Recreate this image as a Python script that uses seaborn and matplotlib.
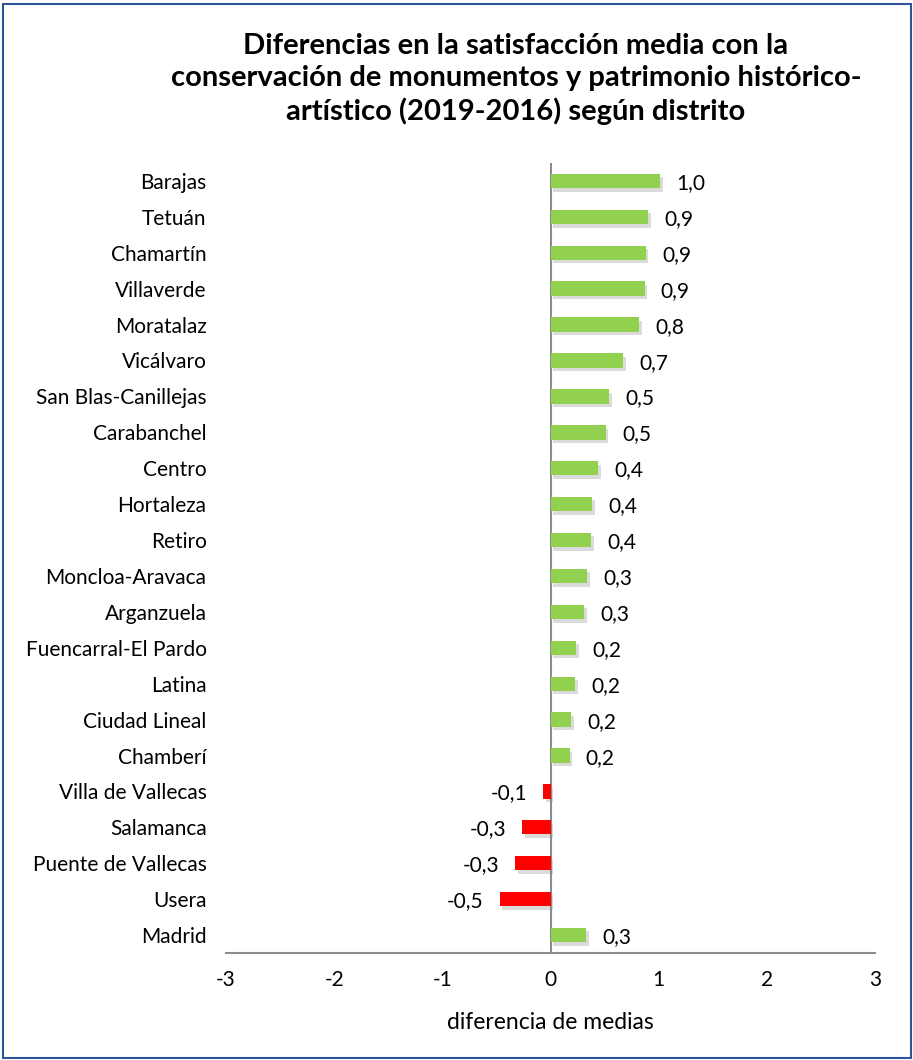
import matplotlib
matplotlib.use("Agg")
import matplotlib.pyplot as plt
import matplotlib.patheffects as pe
from matplotlib.patches import Rectangle
import seaborn as sns
import pandas as pd

districts = ["Barajas", "Tetuán", "Chamartín", "Villaverde", "Moratalaz", "Vicálvaro",
             "San Blas-Canillejas", "Carabanchel", "Centro", "Hortaleza", "Retiro",
             "Moncloa-Aravaca", "Arganzuela", "Fuencarral-El Pardo", "Latina",
             "Ciudad Lineal", "Chamberí", "Villa de Vallecas", "Salamanca",
             "Puente de Vallecas", "Usera", "Madrid"]
values = [1.01, 0.90, 0.88, 0.87, 0.82, 0.67, 0.54, 0.51, 0.44, 0.385, 0.376,
          0.34, 0.31, 0.24, 0.23, 0.19, 0.176, -0.065, -0.26, -0.325, -0.47, 0.33]
xticks = [-3, -2, -1, 0, 1, 2, 3]

GREEN = "#92d050"
RED = "#ff0000"

df = pd.DataFrame({"distrito": districts, "dif": values})
df["signo"] = ["pos" if v >= 0 else "neg" for v in values]

sns.set_theme(style="white")
plt.rcParams["font.family"] = ["Lato", "DejaVu Sans"]

fig = plt.figure(figsize=(9.13, 10.6), dpi=100)
ax = fig.add_axes([226/913, 1 - 953/1060, (875 - 226)/913, (953 - 163)/1060])

sns.barplot(data=df, x="dif", y="distrito", hue="signo",
            palette={"pos": GREEN, "neg": RED}, order=districts, saturation=1,
            width=0.4, dodge=False, legend=False, ax=ax, orient="h")

for p in ax.patches:
    p.set_path_effects([pe.SimplePatchShadow(offset=(2, -2.5), shadow_rgbFace="#888888", alpha=0.3),
                        pe.Normal()])
    p.set_edgecolor("none")

for i, v in enumerate(values):
    lbl = f"{v:.1f}".replace(".", ",")
    if v >= 0:
        ax.text(v + 0.15, i + 0.06, lbl, ha="left", va="center", fontsize=15, color="#000000")
    else:
        ax.text(v - 0.15, i + 0.06, lbl, ha="right", va="center", fontsize=15, color="#000000")

ax.set_xlim(-3, 3)
ax.set_ylim(21.5, -0.5)
ax.set_xticks(xticks)
ax.set_xticklabels([str(t) for t in xticks], fontsize=15)
ax.tick_params(axis="x", length=0, pad=12, labelcolor="#000000")
ax.tick_params(axis="y", length=0, pad=14, labelsize=15, labelcolor="#000000")
ax.axvline(0, color="#8c8c8c", lw=1.5, zorder=0.5)
for s in ["top", "right", "left"]:
    ax.spines[s].set_visible(False)
ax.spines["bottom"].set_color("#8c8c8c")
ax.spines["bottom"].set_linewidth(1.5)
ax.set_ylabel("")
ax.set_xlabel("diferencia de medias", fontsize=16.5, labelpad=16, color="#000000")

fig.text(516/913, 1 - 79/1060,
         "Diferencias en la satisfacción media con la\n"
         "conservación de monumentos y patrimonio histórico-\n"
         "artístico (2019-2016) según distrito",
         ha="center", va="center", fontsize=21, fontweight="bold",
         linespacing=1.28, color="#000000")

fig.patches.append(Rectangle((3/913, 0.002), 908/913, 1 - 4/1060 - 0.002,
                             transform=fig.transFigure, fill=False,
                             edgecolor="#2e5597", lw=1.5))

fig.savefig("out.png", dpi=100)
